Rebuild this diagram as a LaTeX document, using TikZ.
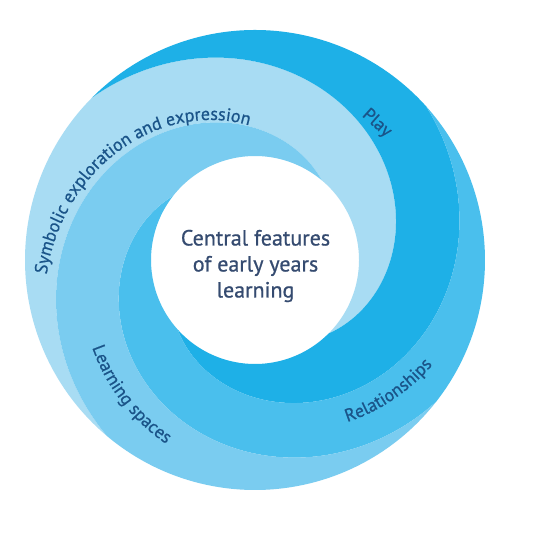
\documentclass[tikz,border=0pt]{standalone}
\usepackage{fontspec}
\setmainfont{PT Sans}
\newfontfamily\heavyfam[FakeBold=0.7]{PT Sans}
\usetikzlibrary{decorations.text}
\definecolor{bandA}{HTML}{A8DCF3}
\definecolor{bandB}{HTML}{7ACCF0}
\definecolor{bandC}{HTML}{4ABFED}
\definecolor{bandD}{HTML}{1EB0E7}
\definecolor{labelc}{HTML}{1A5489}
\definecolor{centerc}{HTML}{354B70}
\newcommand{\Rout}{230}
\newcommand{\Rin}{104}
\newcommand{\kk}{0.7}
\newcommand{\lblfont}{\heavyfam\fontsize{18}{18}\selectfont}
% #1 colour, #2 angle where the band reaches the rim, #3 angle where the next band reaches the rim
\newcommand{\swirlband}[3]{%
  \fill[#1] (#2:\Rout) arc[start angle=#2, end angle=#3, radius=\Rout]
    -- plot[smooth, variable=\t, domain=0:180, samples=61] ({#3-\t}:{\Rout-\kk*\t})
    arc[start angle=#3-180, end angle=#2-180, radius=\Rin]
    -- plot[smooth, variable=\t, domain=0:180, samples=61] ({#2-180+\t}:{\Rin+\kk*\t})
    -- cycle;}
\tikzset{
  bandlabel/.style={decorate, decoration={text along path, text align=center,
      text color=labelc}},
}
\begin{document}
\begin{tikzpicture}[x=1pt,y=1pt]
\useasboundingbox (0,0) rectangle (535,540);
\fill[white] (0,0) rectangle (535,540);
\begin{scope}[shift={(255,280)}]
  \swirlband{bandA}{230}{135}
  \swirlband{bandD}{135}{42}
  \swirlband{bandC}{42}{-38}
  \swirlband{bandB}{-38}{-130}
  % labels
  \path[bandlabel, decoration={text={|\lblfont|Symbolic exploration and expression}}]
    plot[variable=\t, domain=0:110, samples=56] ({191.2-\t}:{135+0.81*(191.2-\t-92.8)});
  \path[bandlabel, decoration={text={|\lblfont|Learning spaces}}]
    plot[variable=\t, domain=0:60, samples=31] ({195.5+\t}:{185+0.54*(195.5+\t-208.6)});
  \path[bandlabel, decoration={text={|\lblfont|Relationships}}]
    plot[variable=\t, domain=0:48, samples=25] ({-70+\t}:{187+0.66*(-70+\t+59.6)});
  \node[text=labelc, font=\lblfont, rotate=-41.7] (play) at (48.3:183) {Play};
  \node[text=centerc, align=center, font=\heavyfam\fontsize{22}{26}\selectfont] (centre) at (0.5,-6)
    {Central features\\of early years\\learning};
\end{scope}
\end{tikzpicture}
\end{document}
